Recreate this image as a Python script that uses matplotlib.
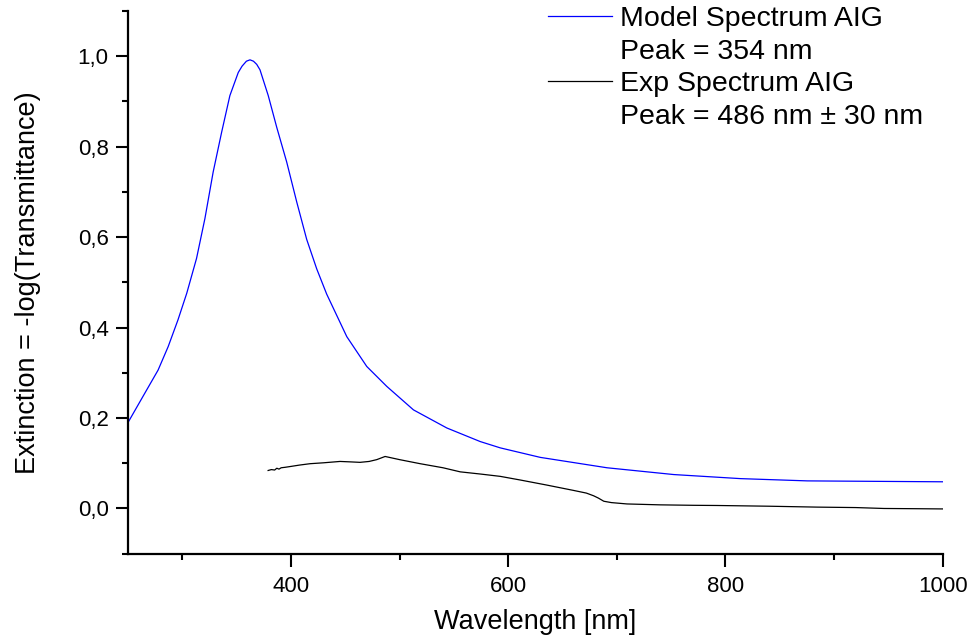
import matplotlib

matplotlib.use("Agg")
import matplotlib.pyplot as plt
from matplotlib.lines import Line2D
from matplotlib.ticker import FuncFormatter, MultipleLocator

plt.rcParams["font.family"] = ["Liberation Sans", "DejaVu Sans"]

# model spectrum (blue)
model_nm = [250, 265.5, 277.7, 287, 296, 304.1, 313.1, 320.8, 328.4, 336.2, 343.8,
            351.5, 355, 359, 362.3, 365.5, 368.5, 371.5, 379.1, 386.9, 396.1,
            405.3, 414.5, 423.7, 432.9, 451.4, 469.8, 488.2, 512.8, 543.5, 574.2,
            592.7, 629.5, 691, 752.4, 813.9, 875.4, 936.7, 1000]
model_ext = [0.190, 0.255, 0.306, 0.358, 0.417, 0.476, 0.553, 0.641, 0.744, 0.832,
             0.913, 0.964, 0.978, 0.989, 0.992, 0.989, 0.982, 0.970, 0.913, 0.843,
             0.766, 0.678, 0.595, 0.530, 0.474, 0.380, 0.314, 0.270, 0.218, 0.178,
             0.148, 0.134, 0.113, 0.090, 0.075, 0.066, 0.061, 0.060, 0.059]

# experimental spectrum (black)
exp_nm = [379, 382, 385, 387, 389, 391, 394.5, 400, 408, 417.6, 430, 445.2, 455,
          463.6, 472, 479, 486.7, 500, 519, 540, 555.8, 575, 592.7, 611, 635,
          660, 672, 678.7, 683, 688, 695, 709.4, 740, 770.8, 792.4, 840, 884.5,
          920, 946, 975, 1000]
exp_ext = [0.084, 0.086, 0.085, 0.089, 0.087, 0.090, 0.091, 0.093, 0.096, 0.099,
           0.101, 0.104, 0.103, 0.102, 0.104, 0.108, 0.115, 0.108, 0.099, 0.090,
           0.081, 0.076, 0.071, 0.063, 0.052, 0.040, 0.034, 0.028, 0.023, 0.016,
           0.013, 0.010, 0.008, 0.007, 0.0066, 0.005, 0.003, 0.002, 0.0, -0.0005,
           -0.001]

labels = ["Model Spectrum AIG", "Peak = 354 nm", "Exp Spectrum AIG",
          "Peak = 486 nm \u00b1 30 nm"]

fig = plt.figure(figsize=(9.71, 6.36), dpi=100)
ax = fig.add_axes([128 / 971, 82.3 / 636, (942.7 - 128) / 971, (553.7 - 11) / 636])

l1, = ax.plot(model_nm, model_ext, color="#0000ff", lw=0.9)
l2, = ax.plot(exp_nm, exp_ext, color="black", lw=0.9)

ax.set_xlim(250, 1000)
ax.set_ylim(-0.1, 1.1)
ax.spines["top"].set_visible(False)
ax.spines["right"].set_visible(False)
for s in ("left", "bottom"):
    ax.spines[s].set_linewidth(1.6)

ax.xaxis.set_major_locator(MultipleLocator(200))
ax.xaxis.set_minor_locator(MultipleLocator(100))
ax.yaxis.set_major_locator(MultipleLocator(0.2))
ax.yaxis.set_minor_locator(MultipleLocator(0.1))
ax.yaxis.set_major_formatter(FuncFormatter(lambda v, p: f"{v:.1f}".replace(".", ",").replace("-0,0", "0,0")))
ax.tick_params(which="major", direction="out", length=9, width=1.5, labelsize=16)
ax.tick_params(which="minor", direction="out", length=4.5, width=1.5)
ax.tick_params(axis="x", pad=7)
ax.tick_params(axis="y", pad=5)

ax.set_xlabel("Wavelength [nm]", fontsize=19.5, labelpad=9)
ax.set_ylabel("Extinction = -log(Transmittance)", fontsize=19.5, labelpad=26)

blank = Line2D([], [], color="none")
ax.legend([l1, blank, l2, blank], labels, loc="upper left",
          bbox_to_anchor=(548 / 971, 1 - 6 / 636), bbox_transform=fig.transFigure,
          frameon=False, fontsize=20.5, handlelength=2.25, handletextpad=0.28,
          labelspacing=0.23, borderpad=0, borderaxespad=0)

fig.savefig("out.png", dpi=100)
